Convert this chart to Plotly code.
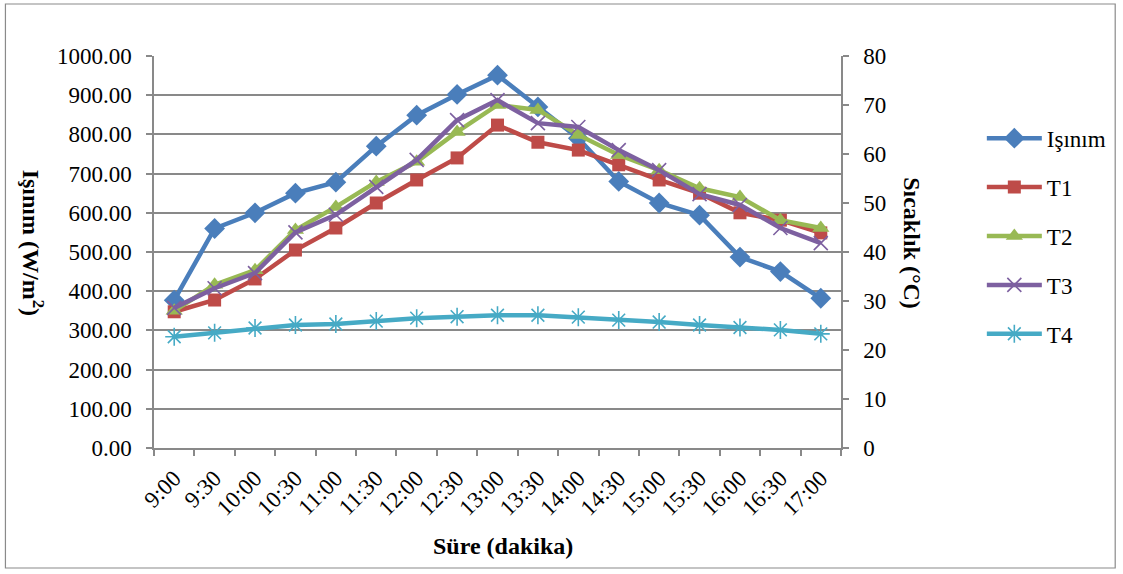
import plotly.graph_objects as go

times = ["9:00", "9:30", "10:00", "10:30", "11:00", "11:30", "12:00", "12:30", "13:00",
         "13:30", "14:00", "14:30", "15:00", "15:30", "16:00", "16:30", "17:00"]
isinim = [377, 560, 600, 650, 678, 770, 849, 902, 951, 870, 790, 680, 625, 594, 487, 450, 382]
t1 = [27.8, 30.2, 34.5, 40.4, 44.9, 50.0, 54.7, 59.2, 65.9, 62.4, 60.8, 57.8, 54.7, 52.0, 48.0, 46.5, 43.9]
t2 = [28.0, 33.3, 36.3, 44.5, 49.2, 54.3, 58.4, 64.5, 70.0, 69.0, 63.9, 59.8, 56.7, 53.0, 51.2, 46.5, 44.9]
t3 = [28.6, 32.6, 35.7, 44.0, 47.6, 53.3, 58.8, 66.9, 71.0, 66.3, 65.5, 60.8, 56.7, 51.8, 49.6, 44.9, 41.8]
t4 = [22.7, 23.5, 24.5, 25.1, 25.3, 25.9, 26.5, 26.8, 27.1, 27.1, 26.7, 26.1, 25.7, 25.1, 24.6, 24.1, 23.3]

FONT = "Liberation Serif"
GRAY = "#898989"
FS = 23

fig = go.Figure()

def add(name, y, color, symbol, size, yaxis, open_sym=False):
    marker = dict(symbol=symbol, size=size, color=color)
    if open_sym:
        marker["line"] = dict(color=color, width=1.6)
    else:
        marker["line"] = dict(width=0)
    fig.add_trace(go.Scatter(
        x=times, y=y, name=name, mode="lines+markers",
        line=dict(color=color, width=4.5), marker=marker,
        yaxis=yaxis, legendgroup=name))

add("Işınım", isinim, "#4A7EBB", "diamond", 16, "y")
add("T1", t1, "#BE4B48", "square", 13, "y2")
add("T2", t2, "#98B954", "triangle-up", 15, "y2")
add("T3", t3, "#7D60A0", "x-thin", 14, "y2", open_sym=True)
add("T4", t4, "#46AAC5", "asterisk", 15, "y2", open_sym=True)

fig.update_layout(
    width=1123, height=574,
    margin=dict(l=154, r=280, t=56, b=126),
    paper_bgcolor="white", plot_bgcolor="white",
    font=dict(family=FONT, size=FS, color="black"),
    showlegend=True,
    legend=dict(x=1.205, y=0.845, xanchor="left", yanchor="top",
                font=dict(family=FONT, size=FS), itemwidth=55,
                tracegroupgap=16, bgcolor="rgba(0,0,0,0)"),
    xaxis=dict(type="category", showline=True, linecolor=GRAY, linewidth=1.5,
               ticks="outside", tickson="boundaries", ticklen=6, tickcolor=GRAY,
               tickwidth=1.5, tickangle=-45, showgrid=False, ticklabelstandoff=6,
               tickfont=dict(family=FONT, size=FS), range=[-0.5, 16.5]),
    yaxis=dict(range=[0, 1000], dtick=100, tickformat=".2f", showline=True,
               linecolor=GRAY, linewidth=1.5, ticks="outside", ticklen=6,
               tickcolor=GRAY, tickwidth=1.5, showgrid=True, gridcolor=GRAY,
               gridwidth=1.5, zeroline=False, ticklabelstandoff=10,
               tickfont=dict(family=FONT, size=FS)),
    yaxis2=dict(range=[0, 80], dtick=10, overlaying="y", side="right", showline=True,
                linecolor=GRAY, linewidth=1.5, ticks="outside", ticklen=6,
                tickcolor=GRAY, tickwidth=1.5, showgrid=False, zeroline=False,
                ticklabelstandoff=10, tickfont=dict(family=FONT, size=FS)),
)

W, H = 689.0, 392.0
def px(x):
    return (x - 154) / W
def py(y):
    return (448 - y) / H

fig.add_shape(type="rect", xref="paper", yref="paper",
              x0=px(5), x1=px(1118), y0=py(568), y1=py(4),
              line=dict(color="#8a8a8a", width=1.2), layer="below")

fig.add_annotation(text="<b>Işınım (W/m<sup>2</sup>)</b>", xref="paper", yref="paper",
                   x=px(33), y=py(243), showarrow=False, textangle=90,
                   font=dict(family=FONT, size=24), xanchor="center", yanchor="middle")
fig.add_annotation(text="<b>Sıcaklık (°C)</b>", xref="paper", yref="paper",
                   x=px(914), y=py(243), showarrow=False, textangle=90,
                   font=dict(family=FONT, size=24), xanchor="center", yanchor="middle")
fig.add_annotation(text="<b>Süre (dakika)</b>", xref="paper", yref="paper",
                   x=px(504), y=py(546), showarrow=False,
                   font=dict(family=FONT, size=24), xanchor="center", yanchor="middle")

fig.write_html("out.html", config={"displayModeBar": False},
               post_script="document.body.style.margin='0';")
